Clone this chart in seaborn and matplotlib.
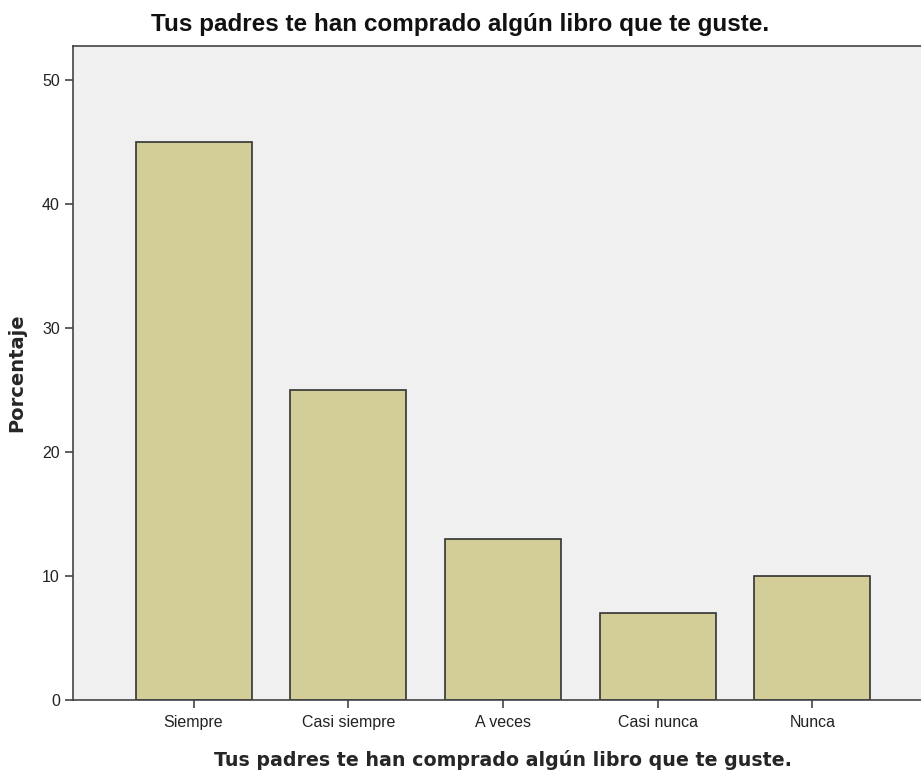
import matplotlib
matplotlib.use("Agg")
import matplotlib.pyplot as plt
import seaborn as sns
import pandas as pd

# Data
categories = ["Siempre", "Casi siempre", "A veces", "Casi nunca", "Nunca"]
percentages = [45, 25, 13, 7, 10]
title_text = "Tus padres te han comprado algún libro que te guste."

df = pd.DataFrame({"categoria": categories, "porcentaje": percentages})

sns.set_style("white")
plt.rcParams["font.family"] = ["Liberation Sans", "DejaVu Sans"]

fig = plt.figure(figsize=(9.21, 7.74), dpi=100)
ax = fig.add_axes([73 / 921, 74 / 774, 860 / 921, 654 / 774])
ax.set_facecolor("#f0f0f0")

sns.barplot(
    data=df, x="categoria", y="porcentaje", order=categories,
    color="#d3ce97", edgecolor="#333333", linewidth=1.2,
    width=0.75, saturation=1, ax=ax
)

ax.set_ylim(0, 52.75)
ax.set_xlim(-0.779, 4.78)
ax.set_yticks([0, 10, 20, 30, 40, 50])

for s in ["left", "bottom", "top"]:
    ax.spines[s].set_color("#444444")
    ax.spines[s].set_linewidth(1.2)
ax.spines["right"].set_visible(False)

ax.tick_params(axis="both", direction="out", length=6, width=1.2,
               color="#444444", labelsize=11.5, labelcolor="#222222",
               bottom=True, left=True)
ax.tick_params(axis="x", pad=5)

ax.set_ylabel("Porcentaje", fontsize=14, fontweight="bold", labelpad=11,
              family=["DejaVu Sans"])
ax.set_xlabel(title_text, fontsize=13.7, fontweight="bold", labelpad=14,
              family=["DejaVu Sans"])
# title centred on the figure, not on the (clipped) plot area
fig.text(0.5, 1 - 25 / 774, title_text, fontsize=17.5, fontweight="bold",
         ha="center", va="center", color="#111111")

fig.savefig("out.png", dpi=100)
plt.close()
